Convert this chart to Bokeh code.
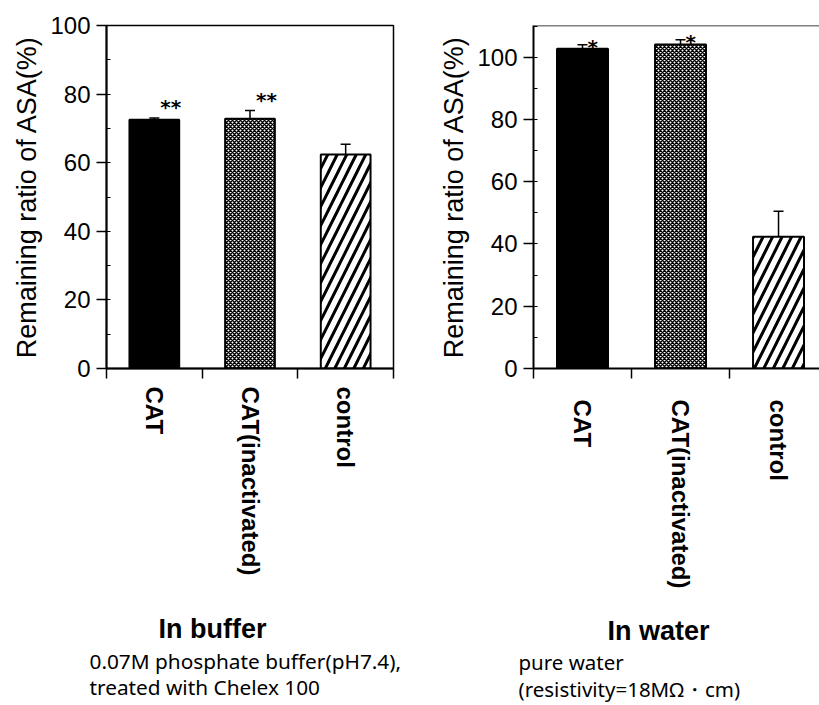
import math

from bokeh.plotting import figure
from bokeh.models import (ColumnDataSource, FixedTicker, SingleIntervalTicker,
                          Range1d, Whisker, TeeHead, Label, Span)
from bokeh.layouts import row, column
from bokeh.core.properties import value
from bokeh.embed import file_html
from bokeh.resources import INLINE

# ---- data -------------------------------------------------------------
categories = ["CAT", "CAT(inactivated)", "control"]

buffer_mean = [72.5, 72.8, 62.4]
buffer_err = [0.5, 2.4, 3.0]
buffer_marks = ["**", "**", ""]

water_mean = [102.7, 104.1, 42.3]
water_err = [1.3, 1.5, 8.2]
water_marks = ["*", "*", ""]

# ---- bar styles (solid / fine cross-hatch / diagonal stripes) --------
bar_fill = ["black", "white", "white"]
bar_hatch = ["blank", "x", "/"]
bar_hatch_scale = [4, 4, 19]
bar_hatch_weight = [1, 1.5, 3]

LABEL_FONT = "Liberation Sans"
NOTE_FONT = "Noto Sans"
TOP_H = 610
BOTTOM_H = 95


def panel(means, errs, marks, y_end, x_end, width, border_left, border_top,
          label_standoff, boxed, star_dx, star_dy):
    xs = [i + 0.5 for i in range(len(categories))]
    upper = [m + e for m, e in zip(means, errs)]
    src = ColumnDataSource(dict(
        x=xs, top=means, upper=upper, mark=marks,
        fill=bar_fill, hatch=bar_hatch,
        hscale=bar_hatch_scale, hweight=bar_hatch_weight,
    ))

    p = figure(width=width, height=TOP_H, output_backend="svg",
               toolbar_location=None,
               x_range=Range1d(0, x_end), y_range=Range1d(0, y_end),
               min_border_left=border_left,
               min_border_right=17 if boxed else 0,
               min_border_top=border_top,
               min_border_bottom=TOP_H - 368)
    p.xgrid.visible = False
    p.ygrid.visible = False
    p.background_fill_color = "white"
    p.border_fill_color = "white"
    if boxed:
        p.outline_line_color = "black"
        p.outline_line_width = 1.5
        p.outline_line_alpha = 1
    else:
        p.outline_line_color = None
        p.add_layout(Span(location=y_end, dimension="width",
                          line_color="black", line_width=1.5))

    p.vbar(x="x", top="top", width=0.52, bottom=0, source=src,
           fill_color="fill", line_color="black", line_width=2,
           hatch_pattern="hatch", hatch_scale="hscale",
           hatch_weight="hweight", hatch_color="black")

    p.add_layout(Whisker(source=src, base="x", lower="top", upper="upper",
                         dimension="height", line_color="black", line_width=1.5,
                         lower_head=None,
                         upper_head=TeeHead(size=10, line_color="black",
                                            line_width=1.5)))

    p.text(x="x", y="upper", text="mark", source=src,
           x_offset=star_dx, y_offset=star_dy,
           text_align="left", text_baseline="bottom",
           text_font=value("DejaVu Sans"), text_font_size="20px",
           text_font_style="bold", text_color="black")

    # category axis: labels at bar centres, ticks at category boundaries
    xa = p.xaxis[0]
    xa.ticker = FixedTicker(ticks=xs,
                            minor_ticks=list(range(len(categories) + 1)))
    xa.major_label_overrides = {x: c for x, c in zip(xs, categories)}
    xa.major_label_orientation = -math.pi / 2
    xa.major_tick_out = 0
    xa.major_tick_in = 0
    xa.minor_tick_out = 10
    xa.minor_tick_in = 0
    xa.minor_tick_line_width = 1.5
    xa.major_label_standoff = label_standoff
    xa.major_label_text_font = LABEL_FONT
    xa.major_label_text_font_size = "24px"
    xa.major_label_text_font_style = "bold"
    xa.major_label_text_color = "black"
    xa.axis_line_width = 2
    xa.axis_line_color = "black"

    ya = p.yaxis[0]
    ya.ticker = SingleIntervalTicker(interval=20, num_minor_ticks=2)
    ya.major_tick_out = 10
    ya.major_tick_in = 0
    ya.major_tick_line_width = 1.5
    ya.minor_tick_in = 4
    ya.minor_tick_out = 0
    ya.major_label_standoff = 6
    ya.major_label_text_font = LABEL_FONT
    ya.major_label_text_font_size = "24px"
    ya.major_label_text_color = "black"
    ya.axis_label = "Remaining ratio of ASA(%)"
    ya.axis_label_text_font = LABEL_FONT
    ya.axis_label_text_font_size = "27px"
    ya.axis_label_text_font_style = "normal"
    ya.axis_label_text_color = "black"
    ya.axis_label_standoff = 5
    ya.axis_line_width = 2
    ya.axis_line_color = "black"
    return p


def caption_box(width, lines):
    """A blank strip under a chart that only carries caption text."""
    c = figure(width=width, height=BOTTOM_H, output_backend="svg",
               toolbar_location=None, x_axis_type=None, y_axis_type=None,
               x_range=Range1d(0, width), y_range=Range1d(0, BOTTOM_H),
               min_border=0)
    c.outline_line_color = None
    c.xgrid.visible = False
    c.ygrid.visible = False
    for x, y, text, size, bold, font, align, baseline in lines:
        c.add_layout(Label(x=x, y=y, x_units="screen", y_units="screen",
                           text=text, text_align=align, text_baseline=baseline,
                           text_font=font, text_font_size=size,
                           text_font_style="bold" if bold else "normal",
                           text_color="black"))
    return c


left = panel(buffer_mean, buffer_err, buffer_marks, y_end=100, x_end=3,
             width=410, border_left=106, border_top=16, label_standoff=8,
             boxed=True, star_dx=6, star_dy=1)
right = panel(water_mean, water_err, water_marks, y_end=110.2, x_end=2.918,
              width=409, border_left=123, border_top=25, label_standoff=21,
              boxed=False, star_dx=5, star_dy=14)

left_caption = caption_box(410, [
    (212, 92, "In buffer", "27px", True, LABEL_FONT, "center", "top"),
    (89, 45, "0.07M phosphate buffer(pH7.4),", "20.8px", False, NOTE_FONT,
     "left", "alphabetic"),
    (89, 19, "treated with Chelex 100", "20.8px", False, NOTE_FONT,
     "left", "alphabetic"),
])
right_caption = caption_box(409, [
    (248, 90, "In water", "27px", True, LABEL_FONT, "center", "top"),
    (108, 44, "pure water", "20.5px", False, NOTE_FONT, "left", "alphabetic"),
    (108, 17, "(resistivity=18MΩ・cm)", "20.5px", False, NOTE_FONT,
     "left", "alphabetic"),
])

layout = column(row(left, right), row(left_caption, right_caption))
open("out.html", "w").write(file_html(layout, INLINE))
